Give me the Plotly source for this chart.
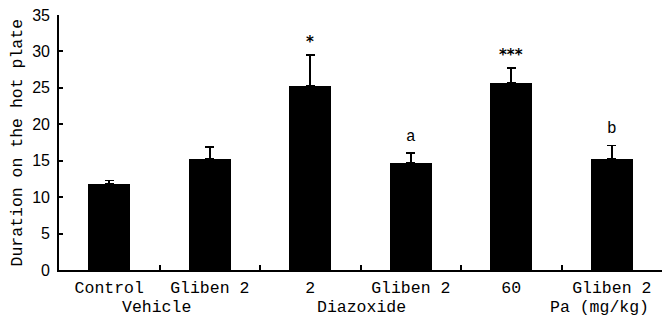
import plotly.graph_objects as go

categories = ["Control", "Gliben 2", "2", "Gliben 2", "60", "Gliben 2"]
means = [11.8, 15.2, 25.3, 14.7, 25.7, 15.3]
sems = [0.5, 1.7, 4.2, 1.4, 2.0, 1.8]
marks = ["", "", "*", "a", "***", "b"]
groups = ["Vehicle", "Diazoxide", "Pa (mg/kg)"]
y_ticks = [0, 5, 10, 15, 20, 25, 30, 35]

xs = list(range(len(categories)))
MONO = "Liberation Mono, Courier New, monospace"

fig = go.Figure()
fig.add_trace(go.Bar(
    x=xs, y=means, width=0.42,
    marker=dict(color="black", line=dict(color="black", width=0)),
    error_y=dict(type="data", symmetric=False, array=sems,
                 arrayminus=[0] * len(sems), color="black",
                 thickness=1.6, width=4.5),
    showlegend=False,
))

for i, (m, v, s) in enumerate(zip(marks, means, sems)):
    if m:
        star = m.startswith("*")
        fig.add_annotation(x=i, y=v + s, text=("<b>%s</b>" % m) if star else m,
                           showarrow=False, yanchor="middle",
                           yshift=13 if star else 16,
                           font=dict(family="DejaVu Sans, sans-serif" if star else MONO,
                                     size=15 if star else 16, color="black"))

group_pos = [0.47, 2.51, 4.88]
for g, p in zip(groups, group_pos):
    fig.add_annotation(x=p, y=0, text=g, showarrow=False, xref="x", yref="paper",
                       yanchor="middle", yshift=-37,
                       font=dict(family=MONO, size=16.5, color="black"))

fig.add_annotation(x=0, y=0.5, xref="paper", yref="paper", xshift=-42,
                   text="Duration on the hot plate", textangle=-90,
                   showarrow=False, xanchor="center", yanchor="middle",
                   font=dict(family=MONO, size=16.5, color="black"))

fig.update_layout(
    width=662, height=320,
    margin=dict(l=59, r=0, t=15, b=50),
    plot_bgcolor="white", paper_bgcolor="white",
    bargap=0,
)
fig.update_xaxes(
    range=[-0.5, 5.5], tickmode="array", tickvals=xs, ticktext=categories,
    ticks="", showline=True, linecolor="black", linewidth=1.6,
    tickfont=dict(family=MONO, size=16.5, color="black"),
    showgrid=False, zeroline=False, automargin=False,
    ticklabelstandoff=1,
    minor=dict(tickmode="array", tickvals=[0.5, 1.5, 2.5, 3.5, 4.5],
               ticks="inside", ticklen=5, tickwidth=1.5, tickcolor="black"),
)
fig.update_yaxes(
    range=[0, 35], tickmode="array", tickvals=y_ticks,
    ticks="inside", ticklen=4, tickwidth=1.5, tickcolor="black",
    showline=True, linecolor="black", linewidth=1.6,
    tickfont=dict(family="Liberation Sans, Arial, sans-serif", size=16, color="black"),
    showgrid=False, zeroline=False, automargin=False,
    ticklabelstandoff=4,
)

fig.write_html("out.html", config={"displayModeBar": False},
               post_script="document.body.style.margin='0';document.body.style.overflow='hidden';")
